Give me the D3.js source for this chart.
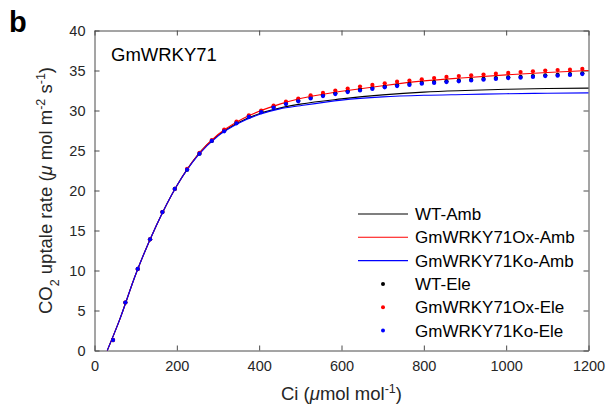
<!DOCTYPE html>
<html><head><meta charset="utf-8">
<script src="https://cdn.jsdelivr.net/npm/d3@7"></script>
<style>
body{margin:0;background:#fff;}
svg{display:block;font-family:"Liberation Sans",Arial,Helvetica,sans-serif;}
</style></head>
<body><svg id="c" width="611" height="408"></svg>
<script>
// ---- data ----
const lineCi = [31, 60, 100, 150, 200, 250, 300, 350, 400, 450, 500, 600, 700, 800, 900, 1000, 1100, 1200];
const wtAmb = [0, 3.7, 9.5, 15.6, 20.6, 24.4, 26.9, 28.5, 29.6, 30.3, 30.8, 31.45, 31.95, 32.3, 32.5, 32.65, 32.75, 32.8];
const oxAmb = [0, 3.7, 9.5, 15.6, 20.6, 24.4, 27.0, 28.7, 29.9, 30.8, 31.5, 32.4, 33.1, 33.7, 34.1, 34.45, 34.75, 35.0];
const koAmb = [0, 3.7, 9.5, 15.6, 20.6, 24.3, 26.8, 28.4, 29.5, 30.2, 30.6, 31.3, 31.7, 31.9, 32.0, 32.1, 32.15, 32.2];

const dotCi = [45, 75, 105, 135, 165, 195, 225, 255, 285, 315, 345, 375, 405, 435, 465, 495, 525, 555, 585, 615, 645, 675, 705, 735, 765, 795, 825, 855, 885, 915, 945, 975, 1005, 1035, 1065, 1095, 1125, 1155, 1185];
const wtEle = [1.3, 6.0, 10.2, 13.9, 17.3, 20.2, 22.6, 24.6, 26.2, 27.5, 28.5, 29.3, 29.9, 30.45, 30.9, 31.25, 31.6, 31.9, 32.15, 32.4, 32.6, 32.8, 33.0, 33.15, 33.3, 33.45, 33.55, 33.65, 33.75, 33.85, 33.95, 34.05, 34.15, 34.2, 34.3, 34.4, 34.45, 34.55, 34.65];
const oxEle = [1.3, 6.0, 10.2, 13.9, 17.3, 20.2, 22.7, 24.7, 26.3, 27.6, 28.6, 29.4, 30.0, 30.6, 31.1, 31.5, 31.9, 32.2, 32.5, 32.75, 33.0, 33.2, 33.4, 33.6, 33.75, 33.9, 34.05, 34.2, 34.3, 34.4, 34.5, 34.6, 34.7, 34.8, 34.9, 35.0, 35.05, 35.1, 35.2];
const koEle = [1.3, 6.0, 10.2, 13.9, 17.3, 20.2, 22.6, 24.6, 26.2, 27.4, 28.4, 29.2, 29.8, 30.35, 30.8, 31.15, 31.5, 31.8, 32.05, 32.3, 32.5, 32.7, 32.9, 33.05, 33.2, 33.35, 33.45, 33.55, 33.65, 33.75, 33.85, 33.95, 34.05, 34.1, 34.2, 34.3, 34.35, 34.45, 34.55];

const xTicks = [0, 200, 400, 600, 800, 1000, 1200];
const yTicks = [0, 5, 10, 15, 20, 25, 30, 35, 40];
const seriesNames = ["WT-Amb", "GmWRKY71Ox-Amb", "GmWRKY71Ko-Amb", "WT-Ele", "GmWRKY71Ox-Ele", "GmWRKY71Ko-Ele"];
const seriesColors = ["#000000", "#ff0000", "#0000ff", "#000000", "#ff0000", "#0000ff"];

// ---- layout ----
const L = 94.5, R = 588.5, T = 30.5, B = 350.5;
const svg = d3.select("#c");
const x = d3.scaleLinear().domain([0, 1200]).range([L, R]);
const y = d3.scaleLinear().domain([0, 40]).range([B, T]);
const axCol = "#4a4a4a";

function styleAxis(g){
  g.select(".domain").attr("stroke", axCol);
  g.selectAll(".tick line").attr("stroke", axCol);
  g.selectAll(".tick text").attr("fill", "#262626").attr("font-size", 14.5).attr("font-family", "Liberation Sans, Arial, sans-serif");
}
svg.append("g").attr("transform", `translate(0,${B})`)
  .call(d3.axisBottom(x).tickValues(xTicks).tickSizeInner(-5).tickSizeOuter(0).tickPadding(10).tickFormat(d3.format("d")))
  .call(styleAxis);
svg.append("g").attr("transform", `translate(0,${T})`)
  .call(d3.axisTop(x).tickValues(xTicks).tickSizeInner(-5).tickSizeOuter(0).tickFormat(""))
  .call(styleAxis);
svg.append("g").attr("transform", `translate(${L},0)`)
  .call(d3.axisLeft(y).tickValues(yTicks).tickSizeInner(-5).tickSizeOuter(0).tickPadding(9).tickFormat(d3.format("d")))
  .call(styleAxis);
svg.append("g").attr("transform", `translate(${R},0)`)
  .call(d3.axisRight(y).tickValues(yTicks).tickSizeInner(-5).tickSizeOuter(0).tickFormat(""))
  .call(styleAxis);

// ---- lines ----
const lineGen = d3.line().x(d => x(d[0])).y(d => y(d[1])).curve(d3.curveMonotoneX);
[wtAmb, oxAmb, koAmb].forEach((vals, i) => {
  svg.append("path").datum(lineCi.map((c, j) => [c, vals[j]]))
    .attr("d", lineGen).attr("fill", "none").attr("stroke", seriesColors[i]).attr("stroke-width", 1.1);
});
// ---- dots ----
[wtEle, oxEle, koEle].forEach((vals, i) => {
  svg.append("g").selectAll("circle").data(dotCi.map((c, j) => [c, vals[j]])).join("circle")
    .attr("cx", d => x(d[0])).attr("cy", d => y(d[1])).attr("r", 2.1)
    .attr("fill", seriesColors[i + 3]);
});

// ---- legend ----
const lg = svg.append("g");
seriesNames.forEach((n, i) => {
  const yy = 214 + i * 23.3;
  if (i < 3) {
    lg.append("line").attr("x1", 358).attr("x2", 408).attr("y1", yy).attr("y2", yy)
      .attr("stroke", seriesColors[i]).attr("stroke-width", 1.1);
  } else {
    lg.append("circle").attr("cx", 383).attr("cy", yy).attr("r", 2).attr("fill", seriesColors[i]);
  }
  lg.append("text").attr("x", 415).attr("y", yy + 6).attr("font-size", 17).attr("fill", "#000").text(n);
});

// ---- texts ----
svg.append("text").attr("x", 9).attr("y", 32).attr("font-size", 29).attr("font-weight", "bold").text("b");
svg.append("text").attr("x", 111).attr("y", 61).attr("font-size", 18.5).text("GmWRKY71");

const xl = svg.append("text").attr("x", (L + R) / 2).attr("y", 400).attr("text-anchor", "middle").attr("font-size", 18.5).attr("fill", "#262626");
xl.append("tspan").text("Ci (");
xl.append("tspan").attr("font-style", "italic").text("μ");
xl.append("tspan").text("mol mol");
xl.append("tspan").attr("baseline-shift", "super").attr("font-size", 12.5).text("-1");
xl.append("tspan").text(")");

const yl = svg.append("text").attr("transform", `translate(52,${(T + B) / 2}) rotate(-90)`)
  .attr("text-anchor", "middle").attr("font-size", 18.5).attr("fill", "#262626");
yl.append("tspan").text("CO");
yl.append("tspan").attr("baseline-shift", "sub").attr("font-size", 12.5).text("2");
yl.append("tspan").text(" uptale rate (");
yl.append("tspan").attr("font-style", "italic").text("μ");
yl.append("tspan").text(" mol m");
yl.append("tspan").attr("baseline-shift", "super").attr("font-size", 12.5).text("-2");
yl.append("tspan").text(" s");
yl.append("tspan").attr("baseline-shift", "super").attr("font-size", 12.5).text("-1");
yl.append("tspan").text(")");
</script>
</body></html>
